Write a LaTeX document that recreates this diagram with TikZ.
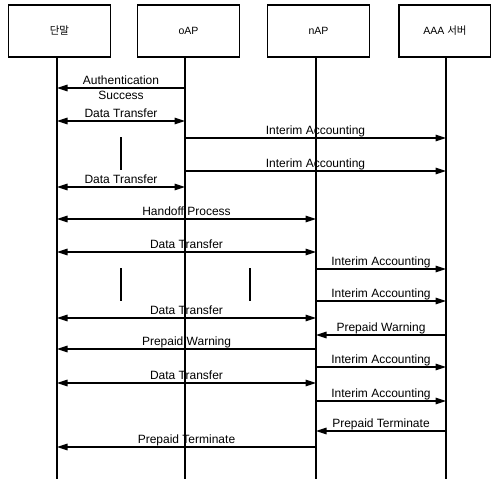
\documentclass[tikz,border=0pt]{standalone}
\usepackage{fontspec}
\setmainfont{Liberation Sans}
\newfontfamily\kr{Noto Sans CJK KR}
\usetikzlibrary{arrows.meta}
\begin{document}
\begin{tikzpicture}[x=1pt,y=-1pt,
  box/.style={draw,line width=1.1pt,minimum width=102pt,minimum height=52pt,inner sep=0pt,font=\fontsize{10.5}{12}\selectfont},
  life/.style={line width=1.4pt},
  tip/.tip={Triangle[length=10.5pt,width=6.5pt]},
  msg/.style={line width=1.2pt,-tip},
  dmsg/.style={line width=1.2pt,tip-tip},
  lbl/.style={font=\fontsize{12}{14}\selectfont,inner sep=0pt,anchor=base,yshift=3.5pt},
  gapmark/.style={line width=1.6pt}]
\useasboundingbox (0,0) rectangle (491,479);
% boxes
\node[box] (b1) at (59.5,31) {\kr 단말};
\node[box] (b2) at (188.5,31) {oAP};
\node[box] (b3) at (318.5,31) {nAP};
\node[box,minimum width=92pt] (b4) at (445,31) {AAA {\kr 서버}};
% lifelines
\coordinate (L1) at (57,479);
\coordinate (L2) at (185,479);
\coordinate (L3) at (316,479);
\coordinate (L4) at (446,479);
\draw[life] (L1 |- b1.south) -- (L1);
\draw[life] (L2 |- b2.south) -- (L2);
\draw[life] (L3 |- b3.south) -- (L3);
\draw[life] (L4 |- b4.south) -- (L4);
% messages
\draw[msg] (L2 |- 0,88) -- node[midway,lbl] {Authentication} (L1 |- 0,88);
\node[font=\fontsize{12}{14}\selectfont,anchor=base,inner sep=0pt] (succ) at (121,99.5) {Success};
\draw[dmsg] (L1 |- 0,121) -- node[midway,lbl] {Data Transfer} (L2 |- 0,121);
\draw[msg] (L2 |- 0,138) -- node[midway,lbl] {Interim Accounting} (L4 |- 0,138);
\draw[msg] (L2 |- 0,171) -- node[midway,lbl] {Interim Accounting} (L4 |- 0,171);
\draw[dmsg] (L1 |- 0,187) -- node[midway,lbl] {Data Transfer} (L2 |- 0,187);
\draw[dmsg] (L1 |- 0,219) -- node[midway,lbl] {Handoff Process} (L3 |- 0,219);
\draw[dmsg] (L1 |- 0,252) -- node[midway,lbl] {Data Transfer} (L3 |- 0,252);
\draw[msg] (L3 |- 0,269) -- node[midway,lbl] {Interim Accounting} (L4 |- 0,269);
\draw[msg] (L3 |- 0,301) -- node[midway,lbl] {Interim Accounting} (L4 |- 0,301);
\draw[dmsg] (L1 |- 0,318) -- node[midway,lbl] {Data Transfer} (L3 |- 0,318);
\draw[msg] (L4 |- 0,335) -- node[midway,lbl] {Prepaid Warning} (L3 |- 0,335);
\draw[msg] (L3 |- 0,349) -- node[midway,lbl] {Prepaid Warning} (L1 |- 0,349);
\draw[msg] (L3 |- 0,367) -- node[midway,lbl] {Interim Accounting} (L4 |- 0,367);
\draw[dmsg] (L1 |- 0,383) -- node[midway,lbl] {Data Transfer} (L3 |- 0,383);
\draw[msg] (L3 |- 0,401) -- node[midway,lbl] {Interim Accounting} (L4 |- 0,401);
\draw[msg] (L4 |- 0,431) -- node[midway,lbl] {Prepaid Terminate} (L3 |- 0,431);
\draw[msg] (L3 |- 0,447) -- node[midway,lbl] {Prepaid Terminate} (L1 |- 0,447);
% continuation marks
\draw[gapmark] (121,137) -- (121,170);
\draw[gapmark] (121,268) -- (121,301);
\draw[gapmark] (250,268) -- (250,301);
\end{tikzpicture}
\end{document}
